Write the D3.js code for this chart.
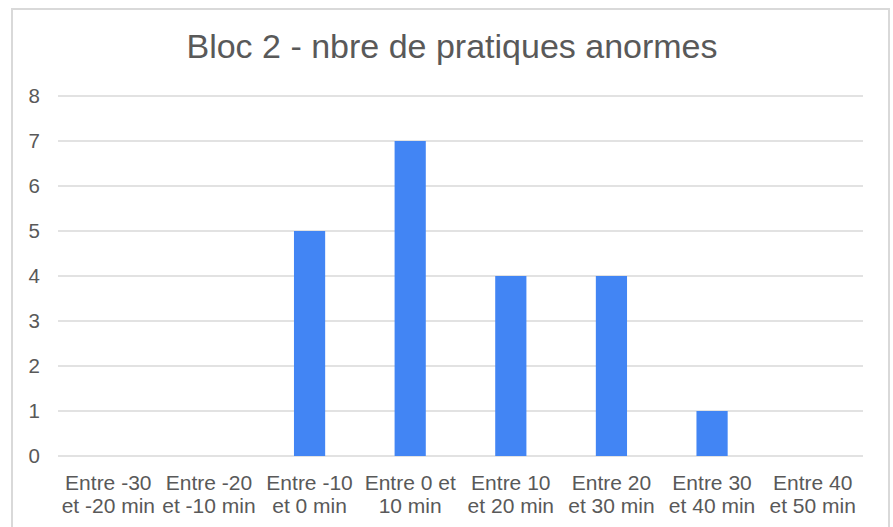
<!DOCTYPE html>
<html>
<head>
<meta charset="utf-8">
<script src="https://cdn.jsdelivr.net/npm/d3@7"></script>
<style>
  html, body { margin: 0; padding: 0; background: #ffffff; }
  svg { display: block; font-family: "Liberation Sans", Arial, sans-serif; }
</style>
</head>
<body>
<svg id="chart" width="893" height="527"></svg>
<script>
const title = "Bloc 2 - nbre de pratiques anormes";
const categories = [
  ["Entre -30", "et -20 min"],
  ["Entre -20", "et -10 min"],
  ["Entre -10", "et 0 min"],
  ["Entre 0 et", "10 min"],
  ["Entre 10", "et 20 min"],
  ["Entre 20", "et 30 min"],
  ["Entre 30", "et 40 min"],
  ["Entre 40", "et 50 min"]
];
const values = [0, 0, 5, 7, 4, 4, 1, 0];
const yTicks = [0, 1, 2, 3, 4, 5, 6, 7, 8];

const svg = d3.select("#chart");
const plot = { left: 58, right: 863, top: 96, bottom: 456 };

// chart frame
svg.append("rect")
  .attr("x", 12).attr("y", 9)
  .attr("width", 877).attr("height", 530)
  .attr("fill", "#ffffff")
  .attr("stroke", "#d9d9d9")
  .attr("stroke-width", 2);

const x = d3.scaleBand()
  .domain(d3.range(categories.length))
  .range([plot.left, plot.right])
  .paddingInner(0.69)
  .paddingOuter(0.345);

const y = d3.scaleLinear().domain([0, 8]).range([plot.bottom, plot.top]);

// horizontal gridlines
svg.append("g")
  .selectAll("line")
  .data(yTicks)
  .join("line")
  .attr("x1", plot.left).attr("x2", plot.right)
  .attr("y1", d => y(d)).attr("y2", d => y(d))
  .attr("stroke", "#d9d9d9")
  .attr("stroke-width", 1.5);

// y tick labels
svg.append("g")
  .selectAll("text")
  .data(yTicks)
  .join("text")
  .attr("x", 40)
  .attr("y", d => y(d))
  .attr("dy", "0.36em")
  .attr("text-anchor", "end")
  .attr("fill", "#595959")
  .attr("font-size", 20.5)
  .text(d => d);

// bars
svg.append("g")
  .selectAll("rect")
  .data(values)
  .join("rect")
  .attr("x", (d, i) => x(i))
  .attr("width", x.bandwidth())
  .attr("y", d => y(d))
  .attr("height", d => y(0) - y(d))
  .attr("fill", "#4285f4");

// category labels (two lines each)
const catG = svg.append("g")
  .selectAll("text")
  .data(categories)
  .join("text")
  .attr("x", (d, i) => x(i) + x.bandwidth() / 2)
  .attr("y", 489.5)
  .attr("text-anchor", "middle")
  .attr("fill", "#595959")
  .attr("font-size", 21);
catG.selectAll("tspan")
  .data(d => d)
  .join("tspan")
  .attr("x", function () { return d3.select(this.parentNode).attr("x"); })
  .attr("dy", (d, i) => i === 0 ? 0 : 23.5)
  .text(d => d);

// title
svg.append("text")
  .attr("x", 452)
  .attr("y", 58)
  .attr("text-anchor", "middle")
  .attr("fill", "#595959")
  .attr("font-size", 34)
  .text(title);
</script>
</body>
</html>
